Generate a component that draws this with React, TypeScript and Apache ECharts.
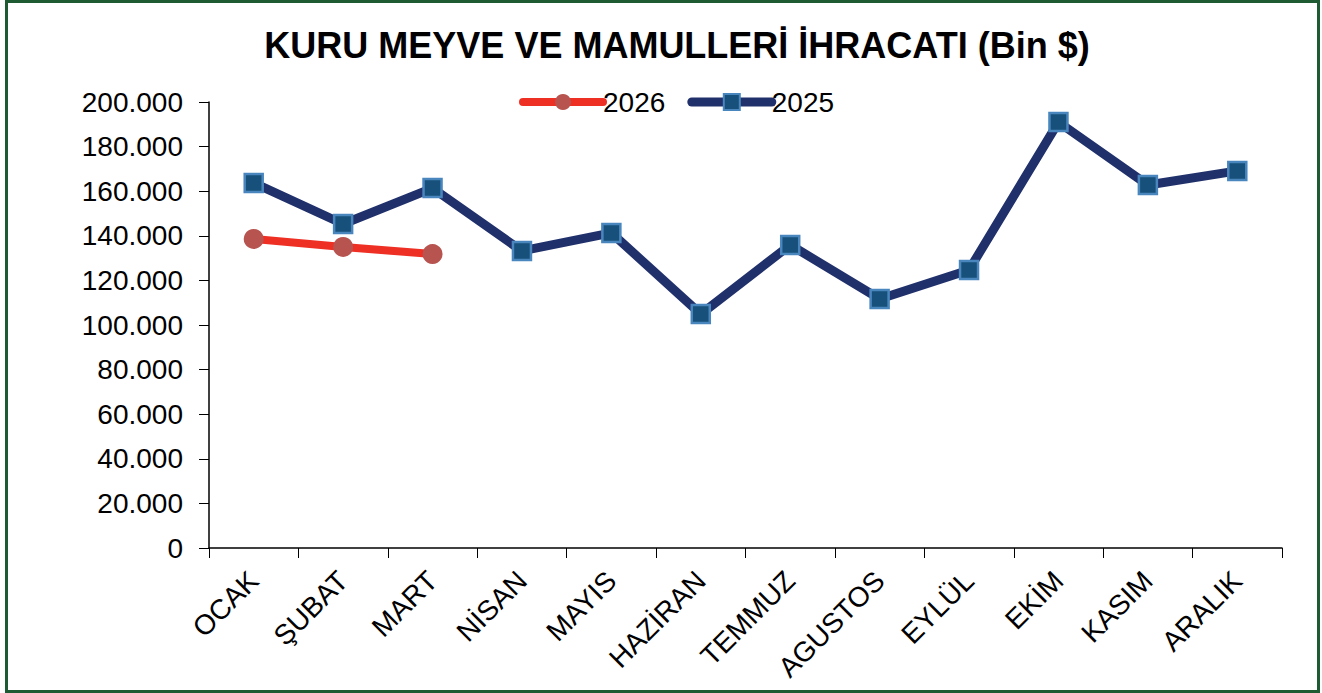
import React, { useEffect, useRef } from "react";
import * as echarts from "echarts";

const categories = ["OCAK", "ŞUBAT", "MART", "NİSAN", "MAYIS", "HAZİRAN", "TEMMUZ", "AGUSTOS", "EYLÜL", "EKİM", "KASIM", "ARALIK"];
const values2026 = [138600, 135000, 131800];
const values2025 = [163700, 145300, 161400, 133200, 141300, 104900, 135900, 111700, 124700, 191000, 162800, 169100];
const titleText = "KURU MEYVE VE MAMULLERİ İHRACATI (Bin $)";

const fmt = (v: number) => String(v).replace(/\B(?=(\d{3})+(?!\d))/g, ".");

export default function App() {
  const ref = useRef<HTMLDivElement>(null);
  useEffect(() => {
    if (!ref.current) return;
    const chart = echarts.init(ref.current, null, { renderer: "svg" });
    const font = "Liberation Sans, Arial, sans-serif";
    chart.setOption({
      animation: false,
      backgroundColor: "#ffffff",
      title: {
        text: titleText,
        left: 672,
        textAlign: "center",
        top: 22,
        textStyle: { fontFamily: font, fontSize: 36, fontWeight: "bold", color: "#000" },
      },
      legend: {
        top: 83,
        left: 514,
        itemWidth: 80,
        itemHeight: 20,
        itemGap: 22,
        textStyle: { fontFamily: font, fontSize: 28, color: "#000", padding: [0, 0, 0, -5] },
        data: [
          { name: "2026", lineStyle: { width: 8, cap: "round" } },
          { name: "2025", lineStyle: { width: 9, cap: "round" } },
        ],
      },
      grid: { left: 209, right: 40, top: 102, bottom: 145, containLabel: false },
      xAxis: {
        type: "category",
        data: categories,
        boundaryGap: true,
        axisLine: { lineStyle: { color: "#000", width: 1.5 } },
        axisTick: { show: true, length: 10, lineStyle: { color: "#000" } },
        axisLabel: { rotate: 45, fontFamily: font, fontSize: 28, color: "#000", margin: 28, interval: 0 },
      },
      yAxis: {
        type: "value",
        min: 0,
        max: 200000,
        interval: 20000,
        splitLine: { show: false },
        axisLine: { show: true, lineStyle: { color: "#000", width: 1.5 } },
        axisTick: { show: true, length: 10, lineStyle: { color: "#000" } },
        axisLabel: { fontFamily: font, fontSize: 28, color: "#000", margin: 26, formatter: (v: number) => fmt(v) },
      },
      series: [
        {
          name: "2026",
          type: "line",
          data: values2026,
          symbol: "circle",
          symbolSize: 20,
          lineStyle: { color: "#EE2F24", width: 8 },
          itemStyle: { color: "#B85450", borderColor: "#B85450", borderWidth: 0 },
          z: 3,
        },
        {
          name: "2025",
          type: "line",
          data: values2025,
          symbol: "rect",
          symbolSize: 18,
          lineStyle: { color: "#20306B", width: 9 },
          itemStyle: { color: "#17507A", borderColor: "#4A86BE", borderWidth: 2.5 },
          z: 2,
        },
      ],
      graphic: [
        {
          type: "rect",
          shape: { x: 6.5, y: 1.5, width: 1312, height: 690 },
          style: { fill: "none", stroke: "#1E5A32", lineWidth: 3 },
          silent: true,
          z: 100,
        },
      ],
    });
    return () => chart.dispose();
  }, []);
  return <div ref={ref} style={{ position: "fixed", left: 0, top: 0, width: 1322, height: 693 }} />;
}
